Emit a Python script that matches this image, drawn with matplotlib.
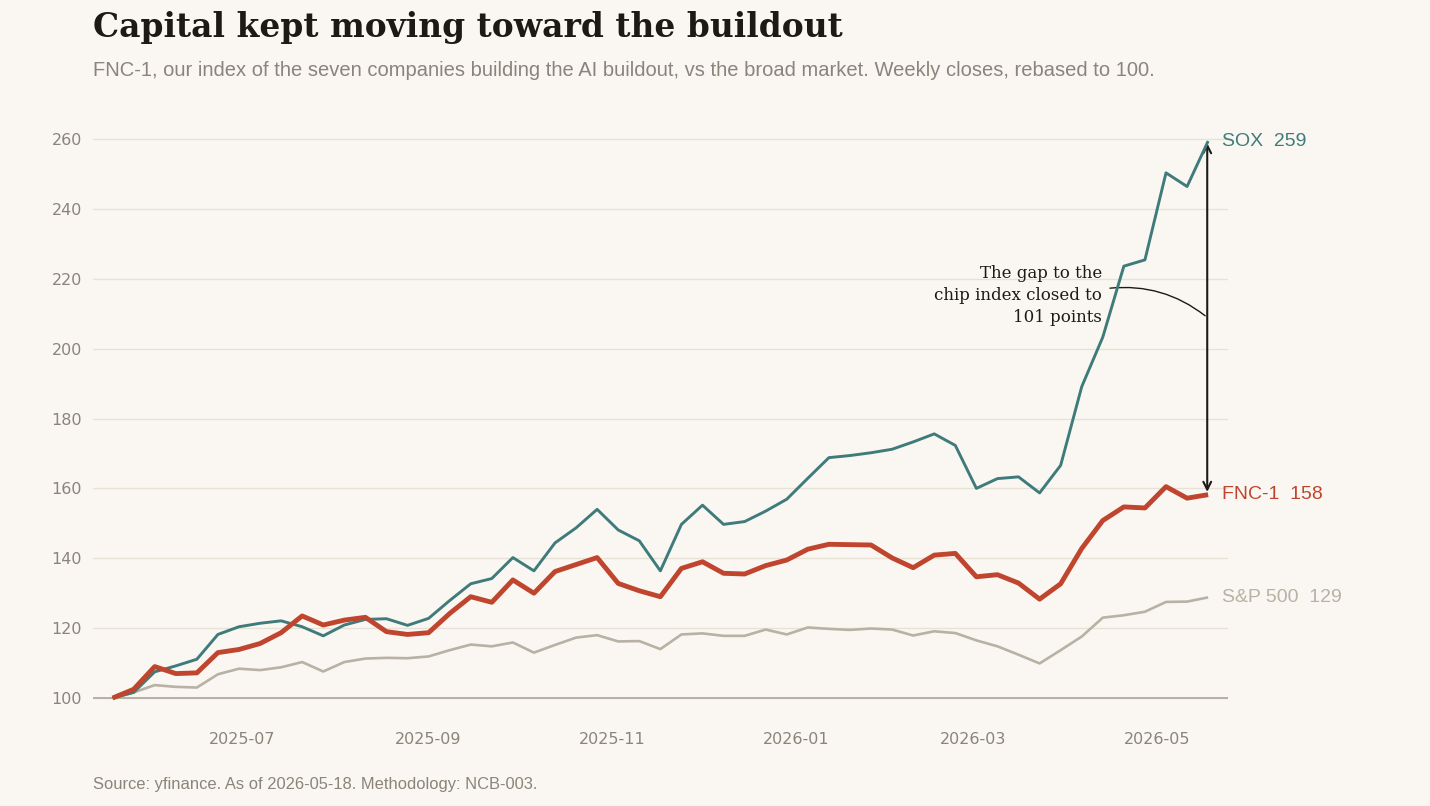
import pandas as pd
import matplotlib
matplotlib.use('Agg')
import matplotlib.pyplot as plt
import matplotlib.dates as mdates

# weekly closes, rebased to 100
dates = pd.date_range('2025-05-19', periods=53, freq='7D')

sox = [100.0, 101.6, 107.5, 109.2, 111.1, 118.2, 120.4, 121.4, 122.1, 120.4,
       117.8, 120.9, 122.5, 122.7, 120.8, 122.8, 127.9, 132.7, 134.2, 140.2,
       136.4, 144.4, 148.7, 154.0, 148.1, 145.0, 136.4, 149.7, 155.2, 149.7,
       150.5, 153.5, 156.9, 162.9, 168.8, 169.4, 170.2, 171.2, 173.3, 175.6,
       172.3, 160.0, 162.8, 163.3, 158.7, 166.6, 189.1, 203.3, 223.6, 225.4,
       250.3, 246.4, 259.4]

fnc1 = [100.0, 102.5, 109.0, 107.0, 107.2, 113.0, 113.9, 115.6, 118.7, 123.5,
        120.9, 122.3, 123.1, 119.0, 118.2, 118.7, 124.2, 129.0, 127.4, 133.8,
        130.0, 136.2, 138.2, 140.2, 132.8, 130.7, 129.0, 137.1, 139.0, 135.7,
        135.5, 137.9, 139.5, 142.6, 144.0, 143.9, 143.8, 140.1, 137.3, 140.9,
        141.4, 134.7, 135.3, 132.9, 128.3, 132.7, 142.8, 150.8, 154.7, 154.4,
        160.5, 157.2, 158.2]

spx = [100.0, 101.6, 103.7, 103.2, 103.0, 106.8, 108.4, 108.0, 108.8, 110.3,
       107.6, 110.3, 111.3, 111.5, 111.4, 111.9, 113.7, 115.3, 114.8, 115.9,
       113.0, 115.2, 117.3, 118.0, 116.2, 116.3, 114.0, 118.2, 118.5, 117.8,
       117.8, 119.6, 118.2, 120.2, 119.8, 119.5, 119.9, 119.6, 117.9, 119.1,
       118.6, 116.5, 114.8, 112.4, 109.9, 113.7, 117.6, 123.0, 123.7, 124.7,
       127.5, 127.6, 128.8]

yticks = [100, 120, 140, 160, 180, 200, 220, 240, 260]
note = 'The gap to the\nchip index closed to\n101 points'

BG = '#faf7f2'
TEAL = '#3f7b7a'
RED = '#c0452f'
GREY = '#b8b2a5'
MUTED = '#8a847a'
INK = '#1c1a17'

fig = plt.figure(figsize=(14.3, 8.06), dpi=100)
fig.patch.set_facecolor(BG)
ax = fig.add_axes([93 / 1430, 83.5 / 806, (1228 - 93) / 1430, 604.5 / 806])
ax.set_facecolor(BG)

ax.plot(dates, spx, color=GREY, lw=1.9, zorder=3, solid_capstyle='butt')
ax.plot(dates, sox, color=TEAL, lw=2.1, zorder=4, solid_capstyle='butt')
ax.plot(dates, fnc1, color=RED, lw=3.5, zorder=5, solid_capstyle='butt')

ax.set_ylim(93, 266)
ax.set_xlim(dates[0] - pd.Timedelta(days=6.5), dates[-1] + pd.Timedelta(days=6.6))
ax.set_yticks(yticks)
ax.grid(axis='y', color='#e7e1d6', lw=1.0, zorder=0)
ax.axhline(100, color='#aba59b', lw=1.2, zorder=2)

ax.xaxis.set_major_locator(mdates.MonthLocator(bymonth=[1, 3, 5, 7, 9, 11]))
ax.xaxis.set_major_formatter(mdates.DateFormatter('%Y-%m'))
ax.tick_params(axis='both', length=0, labelsize=11.5, labelcolor=MUTED)
ax.tick_params(axis='x', pad=6.5)
ax.tick_params(axis='y', pad=8)
for s in ax.spines.values():
    s.set_visible(False)

# end labels
last = dates[-1]
lab_kw = dict(fontsize=14, family='Liberation Sans', va='center', ha='left')
ax.annotate(f'SOX  {sox[-1]:.0f}', (last, sox[-1]), xytext=(10, 0),
            textcoords='offset points', color=TEAL, **lab_kw)
ax.annotate(f'FNC-1  {fnc1[-1]:.0f}', (last, fnc1[-1]), xytext=(10, 0),
            textcoords='offset points', color=RED, **lab_kw)
ax.annotate(f'S&P 500  {spx[-1]:.0f}', (last, spx[-1]), xytext=(10, 0),
            textcoords='offset points', color=GREY, **lab_kw)

# gap arrow
xa = last - pd.Timedelta(days=0.3)
ax.annotate('', xy=(xa, sox[-1] - 0.6), xytext=(xa, fnc1[-1] + 0.8),
            arrowprops=dict(arrowstyle='<->', color=INK, lw=1.5,
                            shrinkA=0, shrinkB=0, mutation_scale=14))
ax.text(dates[0] + pd.Timedelta(days=328.8), 215.2, note, ha='right', va='center',
        fontsize=12, family='DejaVu Serif', color=INK, linespacing=1.4)
ax.annotate('', xy=(dates[0] + pd.Timedelta(days=363), 209.4),
            xytext=(dates[0] + pd.Timedelta(days=331.4), 217.3),
            arrowprops=dict(arrowstyle='-', color=INK, lw=1.0,
                            connectionstyle='arc3,rad=-0.2',
                            shrinkA=0, shrinkB=0))

fig.text(93 / 1430, 1 - 28 / 806, 'Capital kept moving toward the buildout',
         family='DejaVu Serif', weight='bold', fontsize=23.7, color=INK, va='center')
fig.text(93 / 1430, 1 - 71 / 806,
         'FNC-1, our index of the seven companies building the AI buildout, '
         'vs the broad market. Weekly closes, rebased to 100.',
         family='Liberation Sans', fontsize=14.5, color=MUTED, va='center')
fig.text(93 / 1430, 1 - 784 / 806,
         'Source: yfinance. As of 2026-05-18. Methodology: NCB-003.',
         family='Liberation Sans', fontsize=11.9, color=MUTED, va='center')

fig.savefig('out.png', dpi=100, facecolor=BG)
